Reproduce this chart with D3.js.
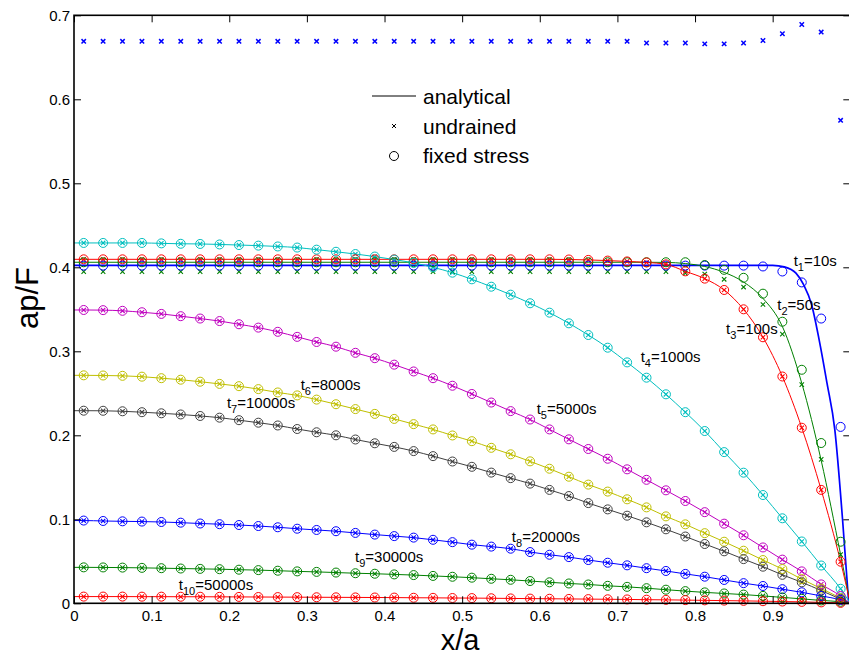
<!DOCTYPE html>
<html>
<head>
<meta charset="utf-8">
<script src="https://cdn.jsdelivr.net/npm/d3@7"></script>
<style>
  body { margin: 0; background: #fff; }
  svg { display: block; }
  text { font-family: "Liberation Sans", Arial, Helvetica, sans-serif; fill: #000; }
</style>
</head>
<body>
<svg id="chart" width="849" height="658"></svg>
<script>
// Sample positions x/a of the numerical solutions
const xPts = [0.0125, 0.0375, 0.0625, 0.0875, 0.1125, 0.1375, 0.1625, 0.1875, 0.2125, 0.2375,
              0.2625, 0.2875, 0.3125, 0.3375, 0.3625, 0.3875, 0.4125, 0.4375, 0.4625, 0.4875,
              0.5125, 0.5375, 0.5625, 0.5875, 0.6125, 0.6375, 0.6625, 0.6875, 0.7125, 0.7375,
              0.7625, 0.7875, 0.8125, 0.8375, 0.8625, 0.8875, 0.9125, 0.9375, 0.9625, 0.9875];

const xTicks = [0, 0.1, 0.2, 0.3, 0.4, 0.5, 0.6, 0.7, 0.8, 0.9];
const yTicks = [0, 0.1, 0.2, 0.3, 0.4, 0.5, 0.6, 0.7];

// t1 = 10 s
const t1LineX = [0, 0.90, 0.915, 0.93, 0.94, 0.95, 0.96, 0.97, 0.98, 0.99, 0.998];
const t1LineV = [0.4024, 0.4024, 0.4005, 0.393, 0.379, 0.356, 0.313, 0.262, 0.207, 0.10, 0.0];
const t1Fixed = [0.402, 0.402, 0.402, 0.402, 0.402, 0.402, 0.402, 0.402, 0.402, 0.402,
                 0.402, 0.402, 0.402, 0.402, 0.402, 0.402, 0.402, 0.402, 0.402, 0.402,
                 0.402, 0.402, 0.402, 0.402, 0.402, 0.402, 0.402, 0.402, 0.402, 0.402,
                 0.402, 0.402, 0.402, 0.402, 0.402, 0.401, 0.395, 0.382, 0.339, 0.210];
const t1Undrained = [0.669, 0.669, 0.669, 0.669, 0.669, 0.669, 0.669, 0.669, 0.669, 0.669,
                     0.669, 0.669, 0.669, 0.669, 0.669, 0.669, 0.669, 0.669, 0.669, 0.669,
                     0.669, 0.669, 0.669, 0.669, 0.669, 0.669, 0.669, 0.669, 0.669, 0.667,
                     0.667, 0.667, 0.666, 0.666, 0.667, 0.670, 0.678, 0.689, 0.680, 0.575];

// t2 = 50 s
const t2Line = [0.406, 0.406, 0.406, 0.406, 0.406, 0.406, 0.406, 0.406, 0.406, 0.406,
                0.406, 0.406, 0.406, 0.406, 0.406, 0.406, 0.406, 0.406, 0.406, 0.406,
                0.406, 0.406, 0.406, 0.406, 0.406, 0.406, 0.406, 0.406, 0.406, 0.406,
                0.4058, 0.4045, 0.401, 0.394, 0.3825, 0.363, 0.3295, 0.262, 0.170, 0.058];
const t2Fixed = [0.406, 0.406, 0.406, 0.406, 0.406, 0.406, 0.406, 0.406, 0.406, 0.406,
                 0.406, 0.406, 0.406, 0.406, 0.406, 0.406, 0.406, 0.406, 0.406, 0.406,
                 0.406, 0.406, 0.406, 0.406, 0.406, 0.406, 0.406, 0.406, 0.406, 0.406,
                 0.406, 0.406, 0.4027, 0.397, 0.3875, 0.3686, 0.3352, 0.278, 0.1908, 0.0733];
const t2Undrained = [0.3948, 0.3948, 0.3948, 0.3948, 0.3948, 0.3948, 0.3948, 0.3948, 0.3948, 0.3948,
                     0.3948, 0.3948, 0.3948, 0.3948, 0.3948, 0.3948, 0.3948, 0.3948, 0.3948, 0.3948,
                     0.3948, 0.3948, 0.3948, 0.3948, 0.3948, 0.3948, 0.3948, 0.3948, 0.3948, 0.3948,
                     0.3948, 0.393, 0.392, 0.3857, 0.3765, 0.3557, 0.3204, 0.2603, 0.1714, 0.058];

// t3 .. t10: analytical, undrained and fixed stress coincide
const t3Vals = [0.4095, 0.4095, 0.4095, 0.4095, 0.4095, 0.4095, 0.4095, 0.4095, 0.4095, 0.4095,
                0.4095, 0.4095, 0.4095, 0.4095, 0.4095, 0.4095, 0.4095, 0.4095, 0.4095, 0.4095,
                0.4095, 0.4095, 0.4095, 0.4095, 0.4095, 0.4093, 0.4088, 0.4080, 0.4070, 0.4058,
                0.4035, 0.3952, 0.3865, 0.3730, 0.3500, 0.3167, 0.2700, 0.2090, 0.1350, 0.0495];
const t4Vals = [0.429, 0.429, 0.429, 0.429, 0.4285, 0.428, 0.4278, 0.4272, 0.4265, 0.4258,
                0.4248, 0.4235, 0.4210, 0.4185, 0.4158, 0.4128, 0.4092, 0.4052, 0.4000, 0.3936,
                0.3857, 0.3769, 0.3674, 0.3572, 0.3460, 0.3333, 0.3194, 0.3043, 0.2868, 0.2686,
                0.2488, 0.2275, 0.2051, 0.1800, 0.1555, 0.1289, 0.1012, 0.0736, 0.0450, 0.0173];
const t5Vals = [0.3492, 0.3490, 0.3482, 0.3465, 0.3445, 0.3418, 0.3390, 0.3360, 0.3322, 0.3282,
                0.3232, 0.3172, 0.3111, 0.3055, 0.2982, 0.2918, 0.2841, 0.2760, 0.2680, 0.2590,
                0.2492, 0.2390, 0.2288, 0.2188, 0.2070, 0.1952, 0.1837, 0.1721, 0.1595, 0.1470,
                0.1345, 0.1218, 0.1085, 0.0948, 0.0810, 0.0665, 0.0520, 0.0380, 0.0225, 0.0088];
const t6Vals = [0.2714, 0.2712, 0.2708, 0.2698, 0.2680, 0.2662, 0.2638, 0.2612, 0.2585, 0.2550,
                0.2510, 0.2475, 0.2425, 0.2370, 0.2312, 0.2255, 0.2195, 0.2133, 0.2070, 0.1998,
                0.1930, 0.1851, 0.1774, 0.1690, 0.1602, 0.1507, 0.1413, 0.1330, 0.1238, 0.1142,
                0.1035, 0.0940, 0.0835, 0.0733, 0.0626, 0.0515, 0.0408, 0.0288, 0.0175, 0.0062];
const t7Vals = [0.2293, 0.2292, 0.2286, 0.2275, 0.2262, 0.2248, 0.2230, 0.2210, 0.2180, 0.2150,
                0.2117, 0.2075, 0.2036, 0.2000, 0.1950, 0.1905, 0.1862, 0.1812, 0.1752, 0.1688,
                0.1625, 0.1556, 0.1490, 0.1425, 0.1350, 0.1277, 0.1193, 0.1118, 0.1043, 0.0964,
                0.0881, 0.0795, 0.0706, 0.0619, 0.0526, 0.0436, 0.0339, 0.0250, 0.0152, 0.0050];
const t8Vals = [0.0985, 0.0980, 0.0976, 0.0973, 0.0968, 0.0960, 0.0950, 0.0942, 0.0932, 0.0920,
                0.0905, 0.0888, 0.0873, 0.0858, 0.0838, 0.0818, 0.0800, 0.0782, 0.0756, 0.0728,
                0.0698, 0.0675, 0.0650, 0.0610, 0.0578, 0.0550, 0.0515, 0.0483, 0.0452, 0.0418,
                0.0385, 0.0350, 0.0317, 0.0278, 0.0240, 0.0206, 0.0168, 0.0131, 0.0088, 0.0040];
const t9Vals = [0.0428, 0.0427, 0.0425, 0.0422, 0.0418, 0.0414, 0.0410, 0.0406, 0.0400, 0.0395,
                0.0388, 0.0380, 0.0374, 0.0366, 0.0358, 0.0352, 0.0344, 0.0336, 0.0326, 0.0316,
                0.0305, 0.0292, 0.0280, 0.0265, 0.0250, 0.0236, 0.0224, 0.0208, 0.0196, 0.0180,
                0.0162, 0.0145, 0.0130, 0.0117, 0.0104, 0.0088, 0.0070, 0.0053, 0.0034, 0.0018];
const t10Vals = [0.0080, 0.0080, 0.0080, 0.0079, 0.0079, 0.0078, 0.0078, 0.0077, 0.0076, 0.0075,
                 0.0074, 0.0073, 0.0072, 0.0071, 0.0070, 0.0069, 0.0068, 0.0066, 0.0065, 0.0063,
                 0.0062, 0.0060, 0.0058, 0.0056, 0.0054, 0.0052, 0.0050, 0.0048, 0.0046, 0.0043,
                 0.0041, 0.0038, 0.0035, 0.0032, 0.0029, 0.0025, 0.0021, 0.0017, 0.0011, 0.0005];

const timeLabels = [
  { sub: "1", rest: "=10s" }, { sub: "2", rest: "=50s" }, { sub: "3", rest: "=100s" },
  { sub: "4", rest: "=1000s" }, { sub: "5", rest: "=5000s" }, { sub: "6", rest: "=8000s" },
  { sub: "7", rest: "=10000s" }, { sub: "8", rest: "=20000s" }, { sub: "9", rest: "=30000s" },
  { sub: "10", rest: "=50000s" }
];
const legendNames = ["analytical", "undrained", "fixed stress"];

// MATLAB-style line colours
const colors = ["#0000ff", "#008000", "#ff0000", "#00bfbf", "#bf00bf",
                "#bfbf00", "#404040", "#0000ff", "#008000", "#ff0000"];

// Build the ten series: analytical curve, undrained and fixed-stress points
const withEnds = (vals) => ({
  x: [0].concat(xPts, [1]),
  v: [vals[0]].concat(vals, [0])
});
const series = [
  { line: { x: t1LineX, v: t1LineV }, und: t1Undrained, fix: t1Fixed },
  { line: withEnds(t2Line), und: t2Undrained, fix: t2Fixed },
  { line: withEnds(t3Vals), und: t3Vals, fix: t3Vals },
  { line: withEnds(t4Vals), und: t4Vals, fix: t4Vals },
  { line: withEnds(t5Vals), und: t5Vals, fix: t5Vals },
  { line: withEnds(t6Vals), und: t6Vals, fix: t6Vals },
  { line: withEnds(t7Vals), und: t7Vals, fix: t7Vals },
  { line: withEnds(t8Vals), und: t8Vals, fix: t8Vals },
  { line: withEnds(t9Vals), und: t9Vals, fix: t9Vals },
  { line: withEnds(t10Vals), und: t10Vals, fix: t10Vals }
];

// Curve label anchor points in data units (x/a, ap/F)
const labelPos = [
  [0.927, 0.401], [0.906, 0.349], [0.84, 0.321], [0.73, 0.287], [0.596, 0.225],
  [0.292, 0.254], [0.197, 0.232], [0.564, 0.073], [0.362, 0.049], [0.135, 0.0155]
];

const svg = d3.select("#chart");
const x = d3.scaleLinear().domain([0, 1]).range([74, 850.3]);
const y = d3.scaleLinear().domain([0, 0.7]).range([603.3, 15.3]);

const plot = svg.append("g");

const line = d3.line().curve(d3.curveMonotoneX);

// analytical curves
series.forEach((s, i) => {
  const pts = s.line.x.map((xv, k) => [x(xv), y(s.line.v[k])]);
  plot.append("path")
    .attr("d", line(pts))
    .attr("fill", "none")
    .attr("stroke", colors[i])
    .attr("stroke-width", i === 0 ? 1.7 : 1);
});

// undrained (cross markers)
const cross = (g, cx, cy, h, color, w) => {
  g.append("path")
    .attr("d", `M${cx - h},${cy - h}L${cx + h},${cy + h}M${cx - h},${cy + h}L${cx + h},${cy - h}`)
    .attr("stroke", color).attr("stroke-width", w).attr("fill", "none");
};
series.forEach((s, i) => {
  const g = plot.append("g");
  s.und.forEach((v, k) => cross(g, x(xPts[k]), y(v), 2.2, colors[i], i === 0 ? 1.5 : 1.1));
});

// fixed stress (circle markers)
series.forEach((s, i) => {
  plot.append("g").selectAll("circle")
    .data(s.fix)
    .join("circle")
    .attr("cx", (d, k) => x(xPts[k]))
    .attr("cy", d => y(d))
    .attr("r", 4.5)
    .attr("fill", "none")
    .attr("stroke", colors[i])
    .attr("stroke-width", 1);
});

// time labels
const labels = svg.append("g").attr("font-size", 15);
timeLabels.forEach((t, i) => {
  const txt = labels.append("text")
    .attr("x", x(labelPos[i][0]))
    .attr("y", y(labelPos[i][1]));
  txt.append("tspan").text("t");
  txt.append("tspan").attr("font-size", 11).attr("dy", 5).text(t.sub);
  txt.append("tspan").attr("dy", -5).text(t.rest);
});

// axes: ticks pointing inward on all four sides
const fmt = d => String(d);
const axB = svg.append("g").attr("transform", `translate(0,${y(0)})`)
  .call(d3.axisBottom(x).tickValues(xTicks).tickSize(-7).tickPadding(7).tickFormat(fmt));
const axT = svg.append("g").attr("transform", `translate(0,${y(0.7)})`)
  .call(d3.axisTop(x).tickValues(xTicks).tickSize(-7).tickFormat(""));
const axL = svg.append("g").attr("transform", `translate(${x(0)},0)`)
  .call(d3.axisLeft(y).tickValues(yTicks).tickSize(-7).tickPadding(4).tickFormat(fmt));
const axR = svg.append("g").attr("transform", `translate(${x(1)},0)`)
  .call(d3.axisRight(y).tickValues(yTicks).tickSize(-7).tickFormat(""));
[axB, axT, axL, axR].forEach(a => {
  a.select(".domain").remove();
  a.selectAll(".tick line").attr("stroke", "#000").attr("stroke-width", 1);
  a.selectAll("text").attr("font-size", 15).attr("font-family", null).attr("fill", "#000");
});
svg.append("rect")
  .attr("x", x(0)).attr("y", y(0.7))
  .attr("width", x(1) - x(0)).attr("height", y(0) - y(0.7))
  .attr("fill", "none").attr("stroke", "#000").attr("stroke-width", 1.6);

// axis titles
svg.append("text")
  .attr("x", 460).attr("y", 650)
  .attr("text-anchor", "middle").attr("font-size", 29)
  .text("x/a");
svg.append("text")
  .attr("transform", "translate(38,298) rotate(-90)")
  .attr("text-anchor", "middle").attr("font-size", 31)
  .text("ap/F");

// legend
const leg = svg.append("g");
leg.append("line").attr("x1", 372).attr("x2", 416).attr("y1", 96).attr("y2", 96)
  .attr("stroke", "#000").attr("stroke-width", 1);
cross(leg, 394, 126, 2, "#000", 1);
leg.append("circle").attr("cx", 394).attr("cy", 156).attr("r", 4.5)
  .attr("fill", "none").attr("stroke", "#000").attr("stroke-width", 1);
legendNames.forEach((n, i) => {
  leg.append("text").attr("x", 423).attr("y", 104 + i * 29.5)
    .attr("font-size", 21).text(n);
});
</script>
</body>
</html>
